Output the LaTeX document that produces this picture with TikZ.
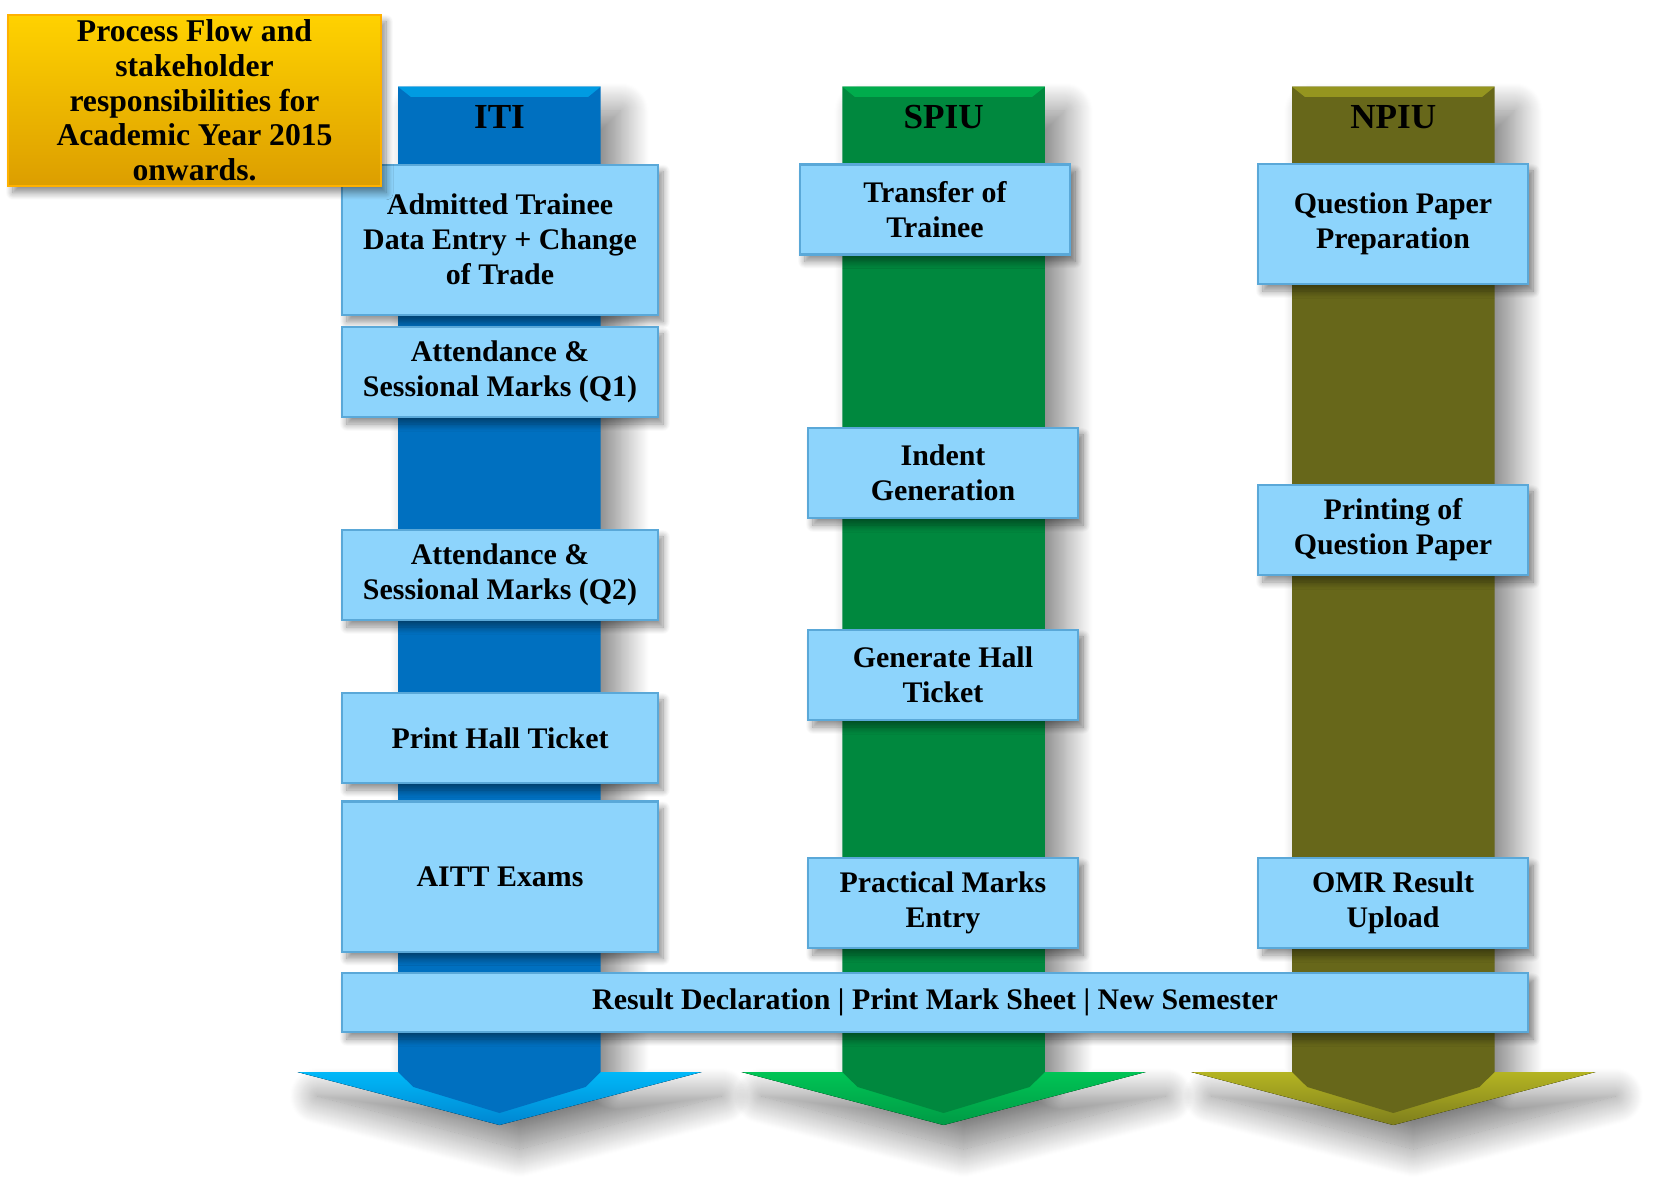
\documentclass[tikz,border=0pt]{standalone}
\usepackage{fontspec}
\setmainfont{Liberation Serif}
\usepackage{xcolor}
\usepackage{tikz}
\usetikzlibrary{shadows,shadows.blur}

\definecolor{itidark}{HTML}{0070C0}
\definecolor{itilight}{HTML}{00B8F8}
\definecolor{spiudark}{HTML}{00883E}
\definecolor{spiulight}{HTML}{00C455}
\definecolor{npiudark}{HTML}{67671A}
\definecolor{npiulight}{HTML}{B4B422}
\definecolor{boxfill}{HTML}{8DD4FC}
\definecolor{boxedge}{HTML}{5AA8D8}
\definecolor{titletop}{HTML}{FFD200}
\definecolor{titlebot}{HTML}{DC9E00}

\begin{document}
\begin{tikzpicture}[x=0.01cm,y=-0.01cm,font=\bfseries]
	\tikzstyle{stepbox}=[rectangle,fill=boxfill,draw=boxedge,line width=0.6pt,inner sep=0pt,align=center,text=black,
		font=\fontsize{8.5}{10}\selectfont\bfseries,
		blur shadow={shadow xshift=0.5mm,shadow yshift=-0.7mm,shadow blur radius=0.7mm,shadow blur steps=10,shadow opacity=45}]
	\tikzstyle{shaft}=[blur shadow={shadow xshift=2mm,shadow yshift=-2.4mm,shadow blur radius=2.8mm,shadow blur steps=30,shadow opacity=50}]
	\tikzstyle{header}=[font=\fontsize{10}{12}\selectfont\bfseries,text=black]
	\tikzstyle{titlebox}=[rectangle,top color=titletop,bottom color=titlebot,draw=titletop!60!orange,line width=0.6pt,
		inner sep=0pt,align=center,minimum width=37.3mm,minimum height=17.1mm,font=\fontsize{9}{9.9}\selectfont\bfseries,
		blur shadow={shadow xshift=0.5mm,shadow yshift=-0.7mm,shadow blur radius=0.7mm,shadow blur steps=10,shadow opacity=45}]

	\useasboundingbox (0,0) rectangle (1655,1185);

	% ITI
	\fill[itidark,shaft] (398,86.7) -- (600.7,86.7) -- (600.7,1072) -- (701.5,1072) -- (499.5,1125) -- (297.5,1072) -- (398,1072) -- cycle;
	\fill[top color=itilight,bottom color=itidark!70!itilight] (297.5,1072) -- (701.5,1072) -- (499.5,1125) -- cycle;
	\fill[itidark] (398,1072) -- (600.7,1072) -- (585.5,1087) -- (499.5,1113) -- (413.5,1087) -- cycle;
	\fill[itilight!60!itidark] (398,86.7) -- (600.7,86.7) -- (588,97) -- (411,97) -- cycle;
	% SPIU
	\fill[spiudark,shaft] (842.3,86.7) -- (1044.9,86.7) -- (1044.9,1072) -- (1145.6,1072) -- (943.6,1125) -- (741.6,1072) -- (842.3,1072) -- cycle;
	\fill[top color=spiulight,bottom color=spiudark!70!spiulight] (741.6,1072) -- (1145.6,1072) -- (943.6,1125) -- cycle;
	\fill[spiudark] (842.3,1072) -- (1044.9,1072) -- (1029.6,1087) -- (943.6,1113) -- (857.6,1087) -- cycle;
	\fill[spiulight!60!spiudark] (842.3,86.7) -- (1044.9,86.7) -- (1032,97) -- (855,97) -- cycle;
	% NPIU
	\fill[npiudark,shaft] (1292,86.7) -- (1494.6,86.7) -- (1494.6,1072) -- (1595.3,1072) -- (1393.3,1125) -- (1191.3,1072) -- (1292,1072) -- cycle;
	\fill[top color=npiulight,bottom color=npiudark!70!npiulight] (1191.3,1072) -- (1595.3,1072) -- (1393.3,1125) -- cycle;
	\fill[npiudark] (1292,1072) -- (1494.6,1072) -- (1479.3,1087) -- (1393.3,1113) -- (1307.3,1087) -- cycle;
	\fill[npiulight!60!npiudark] (1292,86.7) -- (1494.6,86.7) -- (1482,97) -- (1305,97) -- cycle;

	\node[header] (HI) at (499.5,117) {ITI};
	\node[header] (HS) at (943.6,117) {SPIU};
	\node[header] (HN) at (1393.3,117) {NPIU};

	\node[stepbox,minimum width=31.6mm,minimum height=15mm] (I1) at (500,239.6) {Admitted Trainee\\Data Entry + Change\\of Trade};
	\node[stepbox,minimum width=31.6mm,minimum height=9mm] (I2) at (500,372) {Attendance \&\\Sessional Marks (Q1)};
	\node[stepbox,minimum width=31.6mm,minimum height=9mm] (I3) at (500,575) {Attendance \&\\Sessional Marks (Q2)};
	\node[stepbox,minimum width=31.6mm,minimum height=9mm] (I4) at (500,738) {Print Hall Ticket};
	\node[stepbox,minimum width=31.6mm,minimum height=15mm] (I5) at (500,876.5) {AITT Exams};

	\node[stepbox,minimum width=27mm,minimum height=9mm] (S1) at (935,209.5) {Transfer of\\Trainee};
	\node[stepbox,minimum width=27mm,minimum height=9mm] (S2) at (943,473) {Indent\\Generation};
	\node[stepbox,minimum width=27mm,minimum height=9mm] (S3) at (943,675) {Generate Hall\\Ticket};
	\node[stepbox,minimum width=27mm,minimum height=9mm] (S4) at (943,903) {Practical Marks\\Entry};

	\node[stepbox,minimum width=27mm,minimum height=12mm] (N1) at (1393,224) {Question Paper\\Preparation};
	\node[stepbox,minimum width=27mm,minimum height=9mm] (N2) at (1393,530) {Printing of\\Question Paper};
	\node[stepbox,minimum width=27mm,minimum height=9mm] (N3) at (1393,903) {OMR Result\\Upload};

	\node[stepbox,minimum width=118.6mm,minimum height=5.9mm] (R) at (935,1002.5) {Result Declaration | Print Mark Sheet | New Semester};

	\node[titlebox] (T) at (194.5,100.3) {Process Flow and\\stakeholder\\responsibilities for\\Academic Year 2015\\onwards.};
\end{tikzpicture}
\end{document}
